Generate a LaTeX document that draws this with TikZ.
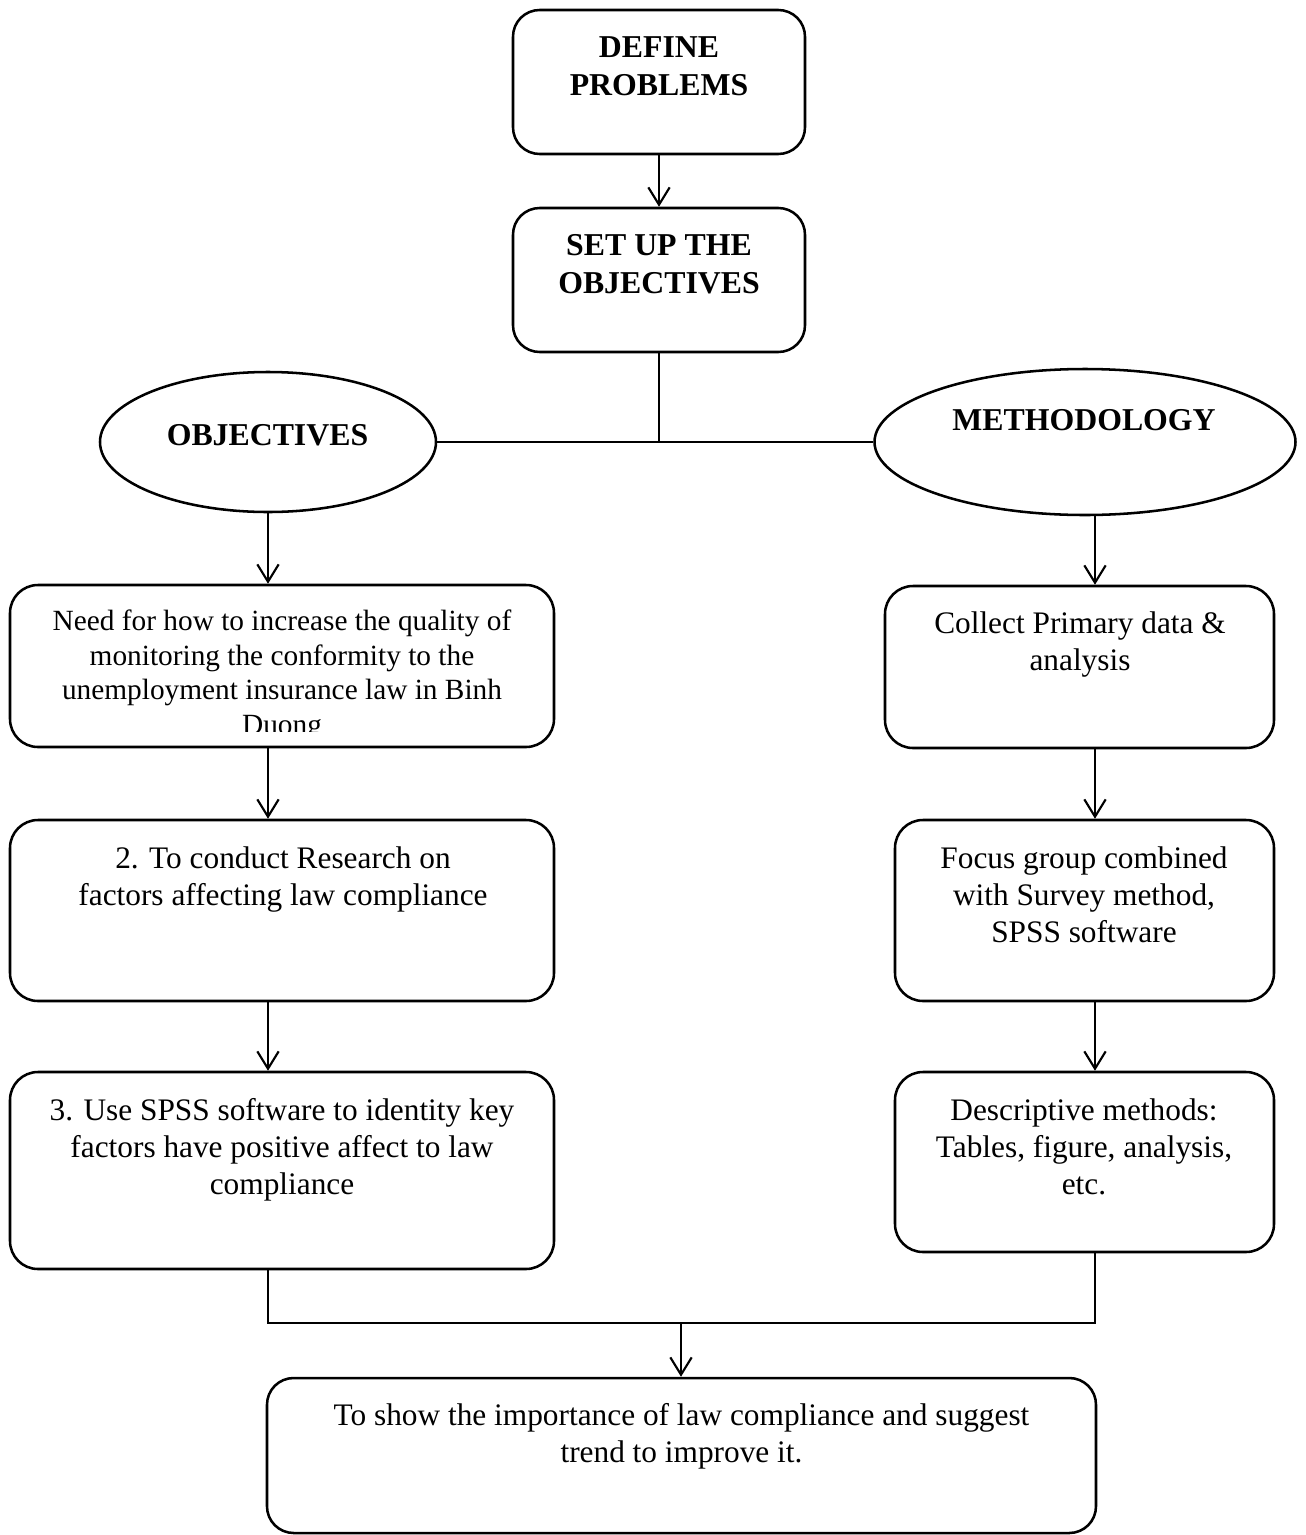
\documentclass[tikz,border=0pt]{standalone}
\usepackage{fontspec}
\setmainfont{Liberation Serif}
\usetikzlibrary{arrows.meta,shapes.geometric}
\begin{document}
\begin{tikzpicture}[x=0.75pt,y=-0.75pt,
  box/.style={draw, line width=1.9pt, rounded corners=20pt, inner sep=0pt},
  oval/.style={draw, ellipse, line width=1.9pt, inner sep=0pt},
  body/.style={font=\fontsize{23.5pt}{27.75pt}\selectfont, align=center, inner sep=0pt, anchor=base},
  smallbody/.style={body, font=\fontsize{22pt}{25.9pt}\selectfont},
  head/.style={font=\fontsize{23.85pt}{28.5pt}\selectfont\bfseries, align=center, inner sep=0pt, anchor=base},
  conn/.style={line width=1.6pt},
  arr/.style={conn, -{Straight Barb[length=13pt,width=16pt]}}]
\useasboundingbox (0,0) rectangle (1306,1535);

% top boxes (text nodes are anchored at the baseline of their last line)
\node[box, minimum width=219pt, minimum height=108pt] (def) at (659,82) {};
\node[head] (tdef) at (659,95) {DEFINE\\PROBLEMS};
\node[box, minimum width=219pt, minimum height=108pt] (setup) at (659,280) {};
\node[head] (tsetup) at (659,293) {SET UP THE\\OBJECTIVES};

% ellipses
\node[oval, minimum width=252pt, minimum height=105pt] (obj) at (268,442) {};
\node[head] (tobj) at (267.5,445) {OBJECTIVES};
\node[oval, minimum width=315.75pt, minimum height=109.5pt] (meth) at (1085,442) {};
\node[head] (tmeth) at (1084,430) {METHODOLOGY};

% left column
\node[box, rounded corners=21pt, minimum width=408pt, minimum height=121.5pt] (L1) at (282,666) {};
\begin{scope}
\clip (10,585) rectangle (554,731);
\node[smallbody] (tL1) at (282,734.5) {Need for how to increase the quality of\\monitoring the conformity to the\\unemployment insurance law in Binh\\Duong};
\end{scope}
\node[box, rounded corners=21pt, minimum width=408pt, minimum height=135.75pt] (L2) at (282,910.5) {};
\node[body] (tL2) at (283,905) {2. To conduct Research on\\factors affecting law compliance};
\node[box, rounded corners=21pt, minimum width=408pt, minimum height=147.75pt] (L3) at (282,1170.5) {};
\node[body] (tL3) at (282,1194) {3. Use SPSS software to identity key\\factors have positive affect to law\\compliance};

% right column
\node[box, rounded corners=21pt, minimum width=291.75pt, minimum height=121.5pt] (R1) at (1079.5,667) {};
\node[body] (tR1) at (1080,670) {Collect Primary data \&\\analysis};
\node[box, rounded corners=21pt, minimum width=284.25pt, minimum height=135.75pt] (R2) at (1084.5,910.5) {};
\node[body] (tR2) at (1084,942) {Focus group combined\\with Survey method,\\SPSS software};
\node[box, rounded corners=21pt, minimum width=284.25pt, minimum height=135pt] (R3) at (1084.5,1162) {};
\node[body] (tR3) at (1084,1194) {Descriptive methods:\\Tables, figure, analysis,\\etc.};

% bottom box
\node[box, minimum width=621.75pt, minimum height=116.25pt] (bot) at (681.5,1455.5) {};
\node[body] (tbot) at (681.5,1462) {To show the importance of law compliance and suggest\\trend to improve it.};

% connectors
\coordinate (lx) at (268,0);
\coordinate (rx) at (1095,0);
\coordinate (j) at (659,442);
\coordinate (jb) at (681,1323);
\draw[arr] (def) -- (setup);
\draw[conn] (setup.south) -- (j);
\draw[conn] (obj.east) -- (meth.west);
\draw[arr] (obj.south) -- (obj.south |- L1.north);
\draw[arr] (meth.south -| rx) -- (R1.north -| rx);
\draw[arr] (L1.south -| lx) -- (L2.north -| lx);
\draw[arr] (L2.south -| lx) -- (L3.north -| lx);
\draw[arr] (R1.south -| rx) -- (R2.north -| rx);
\draw[arr] (R2.south -| rx) -- (R3.north -| rx);
\draw[conn] (L3.south -| lx) -- (lx |- jb) -- (rx |- jb) -- (R3.south -| rx);
\draw[arr] (jb) -- (bot.north -| jb);
\end{tikzpicture}
\end{document}
